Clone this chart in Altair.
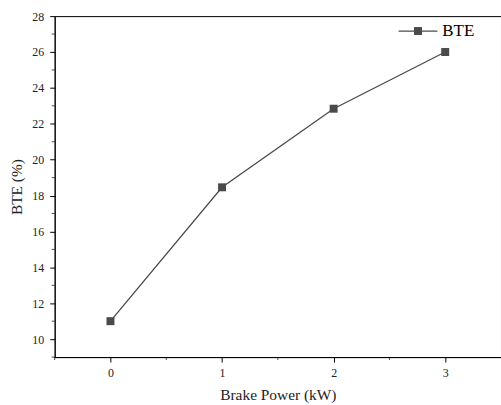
import altair as alt
import pandas as pd

# Brake thermal efficiency against brake power
power_kw = [0, 1, 2, 3]
bte_pct = [11.0, 18.46, 22.84, 26.0]
series_name = "BTE"

df = pd.DataFrame({"power": power_kw, "bte": bte_pct})

FONT = "Liberation Serif"
INK = "#4a4a4a"
PLOT_W, PLOT_H = 449, 343

x_scale = alt.Scale(domain=[-0.5, 3.5], nice=False, zero=False)
y_scale = alt.Scale(domain=[9, 28], nice=False, zero=False)

x_axis = alt.Axis(
    title="Brake Power (kW)", values=[0, 1, 2, 3], format="d",
    grid=False, labelOverlap=False, domainColor="black", tickColor="black",
    tickSize=5, labelPadding=6, titlePadding=9,
)
y_axis = alt.Axis(
    title="BTE (%)", values=list(range(10, 29, 2)), format="d",
    grid=False, labelOverlap=False, domainColor="black", tickColor="black",
    tickSize=5, labelPadding=6, titlePadding=7,
)

base = alt.Chart(df)

line = base.mark_line(color=INK, strokeWidth=1.3).encode(
    x=alt.X("power:Q", scale=x_scale, axis=x_axis),
    y=alt.Y("bte:Q", scale=y_scale, axis=y_axis),
)
points = base.mark_square(color=INK, size=64, opacity=1).encode(
    x=alt.X("power:Q", scale=x_scale, axis=x_axis),
    y=alt.Y("bte:Q", scale=y_scale, axis=y_axis),
)

# Minor ticks between the labelled ones
minor_x = alt.Chart(pd.DataFrame({"m": [-0.5, 0.5, 1.5, 2.5]})).mark_tick(
    color="black", orient="vertical", thickness=1, size=3
).encode(x=alt.X("m:Q", scale=x_scale, axis=x_axis), y=alt.value(PLOT_H + 1.5))
minor_y = alt.Chart(pd.DataFrame({"m": [9, 11, 13, 15, 17, 19, 21, 23, 25, 27]})).mark_tick(
    color="black", orient="horizontal", thickness=1, size=3
).encode(y=alt.Y("m:Q", scale=y_scale, axis=y_axis), x=alt.value(-1.5))

# Legend entry
leg = pd.DataFrame({"label": [series_name]})
leg_line = alt.Chart(leg).mark_rule(color=INK, strokeWidth=1.3).encode(
    x=alt.value(346), x2=alt.value(385), y=alt.value(15)
)
leg_mark = alt.Chart(leg).mark_square(color=INK, size=64, opacity=1).encode(
    x=alt.value(365.5), y=alt.value(15)
)
leg_text = alt.Chart(leg).mark_text(
    font=FONT, fontSize=17, align="left", baseline="middle", color="black"
).encode(text="label:N", x=alt.value(390), y=alt.value(15))

chart = alt.layer(line, points, minor_x, minor_y, leg_line, leg_mark, leg_text).properties(
    width=PLOT_W, height=PLOT_H,
    autosize=alt.AutoSizeParams(type="none"),
    padding={"left": 55, "top": 15, "right": 0, "bottom": 47},
    background="white",
).configure_view(
    stroke="black", strokeWidth=1
).configure_axis(
    labelFont=FONT, titleFont=FONT, labelFontSize=12, titleFontSize=15.5,
    labelColor="#222", titleColor="#222", titleFontWeight="normal",
    domainWidth=1,
)

chart.save("out.html", embed_options={"renderer": "svg", "actions": False})
